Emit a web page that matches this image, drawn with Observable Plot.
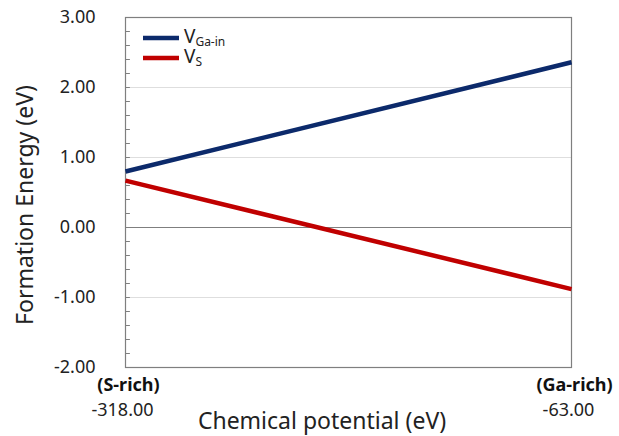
<!DOCTYPE html>
<html>
<head>
<meta charset="utf-8">
<script src="https://cdn.jsdelivr.net/npm/d3@7"></script>
<script src="https://cdn.jsdelivr.net/npm/@observablehq/plot@0.6"></script>
<style>
  html, body { margin: 0; padding: 0; background: #fff; }
  #chart svg { display: block; }
</style>
</head>
<body>
<div id="chart"></div>
<script>
// Chemical potential end points (eV)
const xEnds = [-318, -63];
const xEndNames = ["(S-rich)", "(Ga-rich)"];
// Formation energies (eV) at S-rich and Ga-rich limits
const vGaIn = [0.80, 2.36];
const vS = [0.67, -0.88];
const seriesNames = ["VGa-in", "VS"];
const yTicks = [-2, -1, 0, 1, 2, 3];
const yMinor = d3.range(-10, 16).map(i => i / 5);
const colors = ["#0c2a6b", "#c00000"];

const data = [];
xEnds.forEach((x, i) => {
  data.push({series: seriesNames[0], x, y: vGaIn[i]});
  data.push({series: seriesNames[1], x, y: vS[i]});
});

const fmt = d => d.toFixed(2);
const font = "'Noto Sans', 'Open Sans', sans-serif";

const plot = Plot.plot({
  width: 619,
  height: 436,
  marginLeft: 125,
  marginRight: 48,
  marginTop: 17,
  marginBottom: 69,
  style: {fontFamily: font, color: "#222", background: "#fff"},
  x: {domain: [-318, -63], axis: null},
  y: {domain: [-2, 3], axis: null},
  color: {domain: seriesNames, range: colors},
  marks: [
    Plot.ruleY(yTicks.filter(d => d !== 0 && d !== -2 && d !== 3), {stroke: "#dedede", strokeWidth: 1}),
    Plot.ruleY([0], {stroke: "#7f7f7f", strokeWidth: 1}),
    Plot.vector(yMinor, {
      y: d => d, frameAnchor: "left", length: 4, rotate: 90, anchor: "start",
      stroke: "#7f7f7f", strokeWidth: 1,
      shape: {draw(context, l) { context.moveTo(0, 0); context.lineTo(0, -l); }}
    }),
    Plot.frame({stroke: "#7f7f7f", strokeWidth: 1.2}),
    Plot.axisY(yTicks, {
      tickSize: 0, tickPadding: 30, tickFormat: fmt,
      fontSize: 18, label: null
    }),
    Plot.line(data, {x: "x", y: "y", z: "series", stroke: "series", strokeWidth: 4.5, strokeLinecap: "butt"}),
    Plot.text(xEnds, {
      x: d => d, frameAnchor: "bottom", dy: 23, dx: 3,
      text: (d, i) => xEndNames[i], fontWeight: "bold", fontSize: 18, fill: "#111"
    }),
    Plot.text(xEnds, {
      x: d => d, frameAnchor: "bottom", dy: 48, dx: -3,
      text: fmt, fontSize: 18, fill: "#222"
    })
  ]
});

document.getElementById("chart").appendChild(plot);

const svg = d3.select(plot);
// Axis titles
svg.append("text")
  .attr("transform", "translate(27,205) rotate(-90)")
  .attr("text-anchor", "middle").attr("dominant-baseline", "middle")
  .attr("font-size", 23).attr("fill", "#222").attr("font-family", font)
  .text("Formation Energy (eV)");
svg.append("text")
  .attr("x", 322).attr("y", 429)
  .attr("text-anchor", "middle")
  .attr("font-size", 23).attr("fill", "#222").attr("font-family", font)
  .text("Chemical potential (eV)");

// Legend
const lg = svg.append("g").attr("font-family", font).attr("fill", "#222").attr("text-anchor", "start");
[{name: "V", sub: "Ga-in", y: 38}, {name: "V", sub: "S", y: 58}].forEach((s, i) => {
  lg.append("line").attr("x1", 143).attr("x2", 179).attr("y1", s.y).attr("y2", s.y)
    .attr("stroke", colors[i]).attr("stroke-width", 4.5);
  const t = lg.append("text").attr("x", 184).attr("y", s.y + 5).attr("font-size", 19).attr("text-anchor", "start");
  t.append("tspan").text(s.name);
  t.append("tspan").attr("font-size", 12).attr("dy", 3).text(s.sub);
});
</script>
</body>
</html>
